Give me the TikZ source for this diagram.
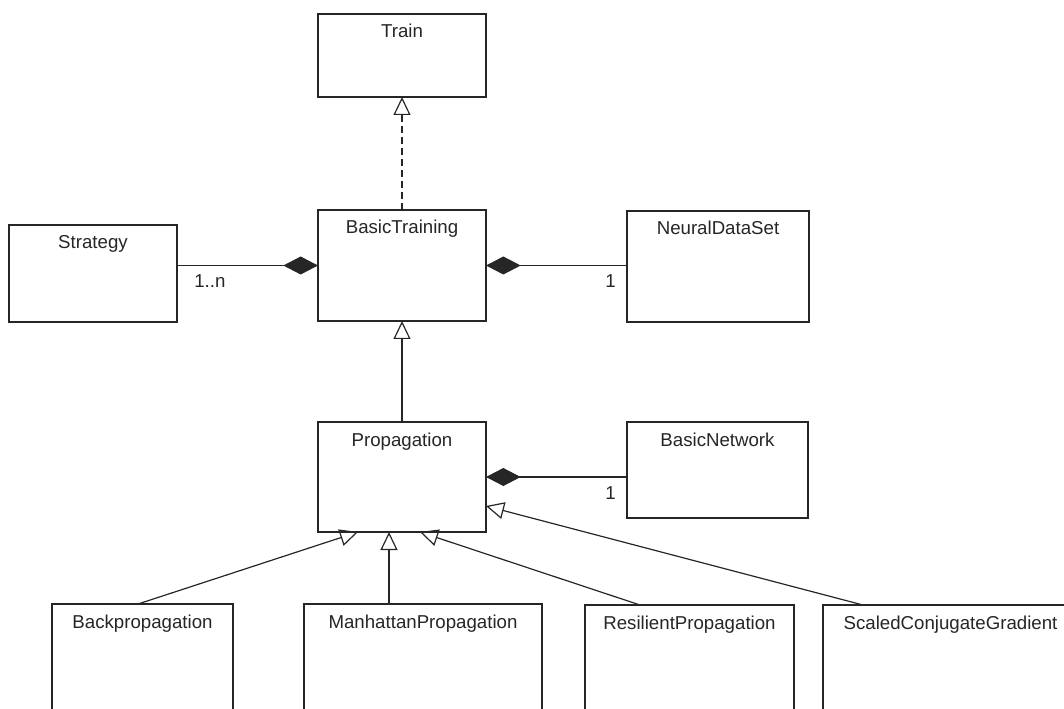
\documentclass[tikz,border=0pt]{standalone}
\usepackage{fontspec}
\setmainfont{Liberation Sans}
\usetikzlibrary{arrows.meta,calc}

% A class box: name, left, top, right, bottom (pixel units), title
\newcommand\umlclass[6]{%
  \node[cls, minimum width={(#4-#2)*0.75pt}, minimum height={(#5-#3)*0.75pt}]
    (#1) at ({(#2+#4)/2},{(#3+#5)/2}) {};
  \node[title] (#1-t) at ({(#2+#4)/2},{#3+24}) {#6};
}

\begin{document}
\begin{tikzpicture}[x=0.75pt,y=-0.75pt,
  cls/.style={draw=black!85, line width=1pt, fill=white, inner sep=0pt, outer sep=0pt},
  title/.style={anchor=base, font=\fontsize{14}{16}\selectfont, text=black!85, inner sep=0pt},
  mult/.style={anchor=base west, font=\fontsize{14}{16}\selectfont, text=black!85, inner sep=0pt},
  link/.style={draw=black!85, line width=0.9pt},
  realizes/.style={link, dash pattern=on 5.25pt off 3pt,
    -{Triangle[open, length=13.5pt, width=12.75pt]}},
  extends/.style={link, -{Triangle[open, length=13.5pt, width=12.75pt]}},
  owns/.style={link, -{Diamond[length=26pt, width=13.5pt]}}
]
\useasboundingbox (0,0) rectangle (1064,709);
\clip (0,0) rectangle (1064,709);

% classes
\umlclass{train}{318}{14}{486}{97}{Train}
\umlclass{strategy}{9}{225}{177}{322}{Strategy}
\umlclass{bt}{318}{210}{486}{321}{BasicTraining}
\umlclass{nds}{627}{211}{809}{322}{NeuralDataSet}
\umlclass{prop}{318}{422}{486}{532}{Propagation}
\umlclass{bnet}{627}{422}{808}{518}{BasicNetwork}
\umlclass{back}{52}{604}{233}{730}{Backpropagation}
\umlclass{man}{304}{604}{542}{730}{ManhattanPropagation}
\umlclass{res}{585}{605}{794}{730}{ResilientPropagation}
\umlclass{scg}{823}{605}{1078}{730}{ScaledConjugateGradient}

% realization and generalization
\draw[realizes] (bt.north) -- (train.south);
\draw[extends] (prop.north) -- (bt.south);

% compositions
\draw[owns] (strategy.east |- bt.west) -- (bt.west);
\draw[owns] (nds.west |- bt.east) -- (bt.east);
\draw[owns] (bnet.west |- prop.east) -- (prop.east);
\node[mult] (m-strategy) at (194,288) {1..n};
\node[mult] (m-nds) at (605,288) {1};
\node[mult] (m-bnet) at (605,499) {1};

% subclasses of Propagation
\coordinate (back-out) at ($(back.north west)+(86,0)$);
\coordinate (man-out) at ($(man.north west)+(85,0)$);
\coordinate (res-out) at ($(res.north west)+(55,0)$);
\coordinate (scg-out) at ($(scg.north west)+(40,0)$);
\coordinate (prop-in1) at ($(prop.south west)+(40,0)$);
\coordinate (prop-in2) at ($(prop.south west)+(71,0)$);
\coordinate (prop-in3) at ($(prop.south west)+(102,0)$);
\coordinate (prop-in4) at ($(prop.south east)+(0,-26)$);
\draw[extends] (back-out) -- (prop-in1);
\draw[extends] (man-out) -- (prop-in2);
\draw[extends] (res-out) -- (prop-in3);
\draw[extends] (scg-out) -- (prop-in4);
\end{tikzpicture}
\end{document}
